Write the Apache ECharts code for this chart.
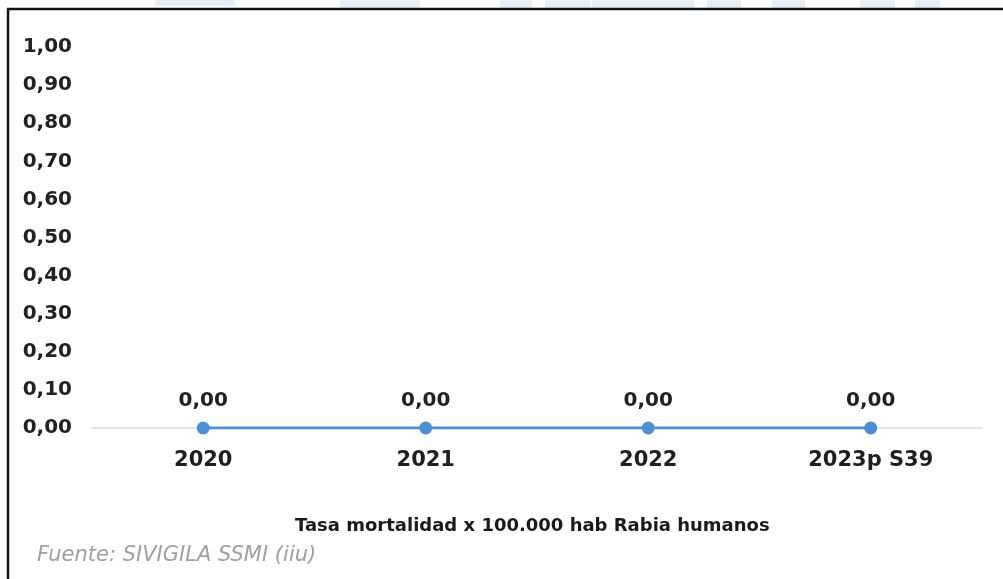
<!DOCTYPE html>
<html><head><meta charset="utf-8">
<script src="https://cdn.jsdelivr.net/npm/echarts@6/dist/echarts.min.js"></script>
<style>html,body{margin:0;padding:0;background:#fff}#c{width:1003px;height:579px}</style>
</head><body><div id="c"></div>
<script>
const categories = ['2020', '2021', '2022', '2023p S39'];
const values = [0, 0, 0, 0];
const seriesName = 'Tasa mortalidad x 100.000 hab Rabia humanos';
const sourceText = 'Fuente: SIVIGILA SSMI (iiu)';
const yMin = 0, yMax = 1, yStep = 0.1;

const fmt = v => v.toFixed(2).replace('.', ',');
const FONT = 'DejaVu Sans, sans-serif';
const chart = echarts.init(document.getElementById('c'), null, {renderer: 'canvas'});
const wm = '#e4eff8';
chart.setOption({
  backgroundColor: '#fff',
  animation: false,
  graphic: [
    {type: 'rect', shape: {x: 155, y: 0, width: 80, height: 6}, style: {fill: wm}},
    {type: 'rect', shape: {x: 340, y: 0, width: 80, height: 8}, style: {fill: wm}},
    {type: 'rect', shape: {x: 500, y: 0, width: 32, height: 8}, style: {fill: wm}},
    {type: 'rect', shape: {x: 545, y: 0, width: 45, height: 8}, style: {fill: wm}},
    {type: 'rect', shape: {x: 592, y: 0, width: 102, height: 8}, style: {fill: wm}},
    {type: 'rect', shape: {x: 707, y: 0, width: 34, height: 8}, style: {fill: wm}},
    {type: 'rect', shape: {x: 772, y: 0, width: 33, height: 8}, style: {fill: wm}},
    {type: 'rect', shape: {x: 860, y: 0, width: 35, height: 8}, style: {fill: wm}},
    {type: 'rect', shape: {x: 915, y: 0, width: 25, height: 8}, style: {fill: wm}},
    {type: 'line', shape: {x1: 7, y1: 9, x2: 1003, y2: 9}, style: {stroke: '#111', lineWidth: 2.5}},
    {type: 'line', shape: {x1: 8, y1: 9, x2: 8, y2: 579}, style: {stroke: '#111', lineWidth: 2.5}},
    {type: 'text', left: 37, top: 545, style: {text: sourceText, font: 'italic 21px ' + FONT, fill: '#a0a0a0'}}
  ],
  title: {
    text: seriesName, left: 290, top: 512,
    textStyle: {fontFamily: FONT, fontSize: 18, fontWeight: 'bold', color: '#1a1a1a'}
  },
  grid: {left: 92, right: 21, top: 47, bottom: 151},
  xAxis: {
    type: 'category', data: categories, boundaryGap: true,
    axisLine: {show: true, lineStyle: {color: '#e6e6e6', width: 2}},
    axisTick: {show: false},
    axisLabel: {fontFamily: FONT, fontSize: 21, fontWeight: 'bold', color: '#1f1f1f', margin: 22}
  },
  yAxis: {
    type: 'value', min: yMin, max: yMax, interval: yStep,
    axisLine: {show: false}, axisTick: {show: false}, splitLine: {show: false},
    axisLabel: {fontFamily: FONT, fontSize: 20, fontWeight: 'bold', color: '#222', margin: 20, formatter: fmt}
  },
  series: [{
    name: seriesName, type: 'line', data: values,
    symbol: 'circle', symbolSize: 13,
    lineStyle: {color: '#4a90d9', width: 3},
    itemStyle: {color: '#4a90d9'},
    label: {show: true, position: 'top', distance: 11, formatter: p => fmt(p.value),
      fontFamily: FONT, fontSize: 20, fontWeight: 'bold', color: '#222'}
  }]
});
</script></body></html>
